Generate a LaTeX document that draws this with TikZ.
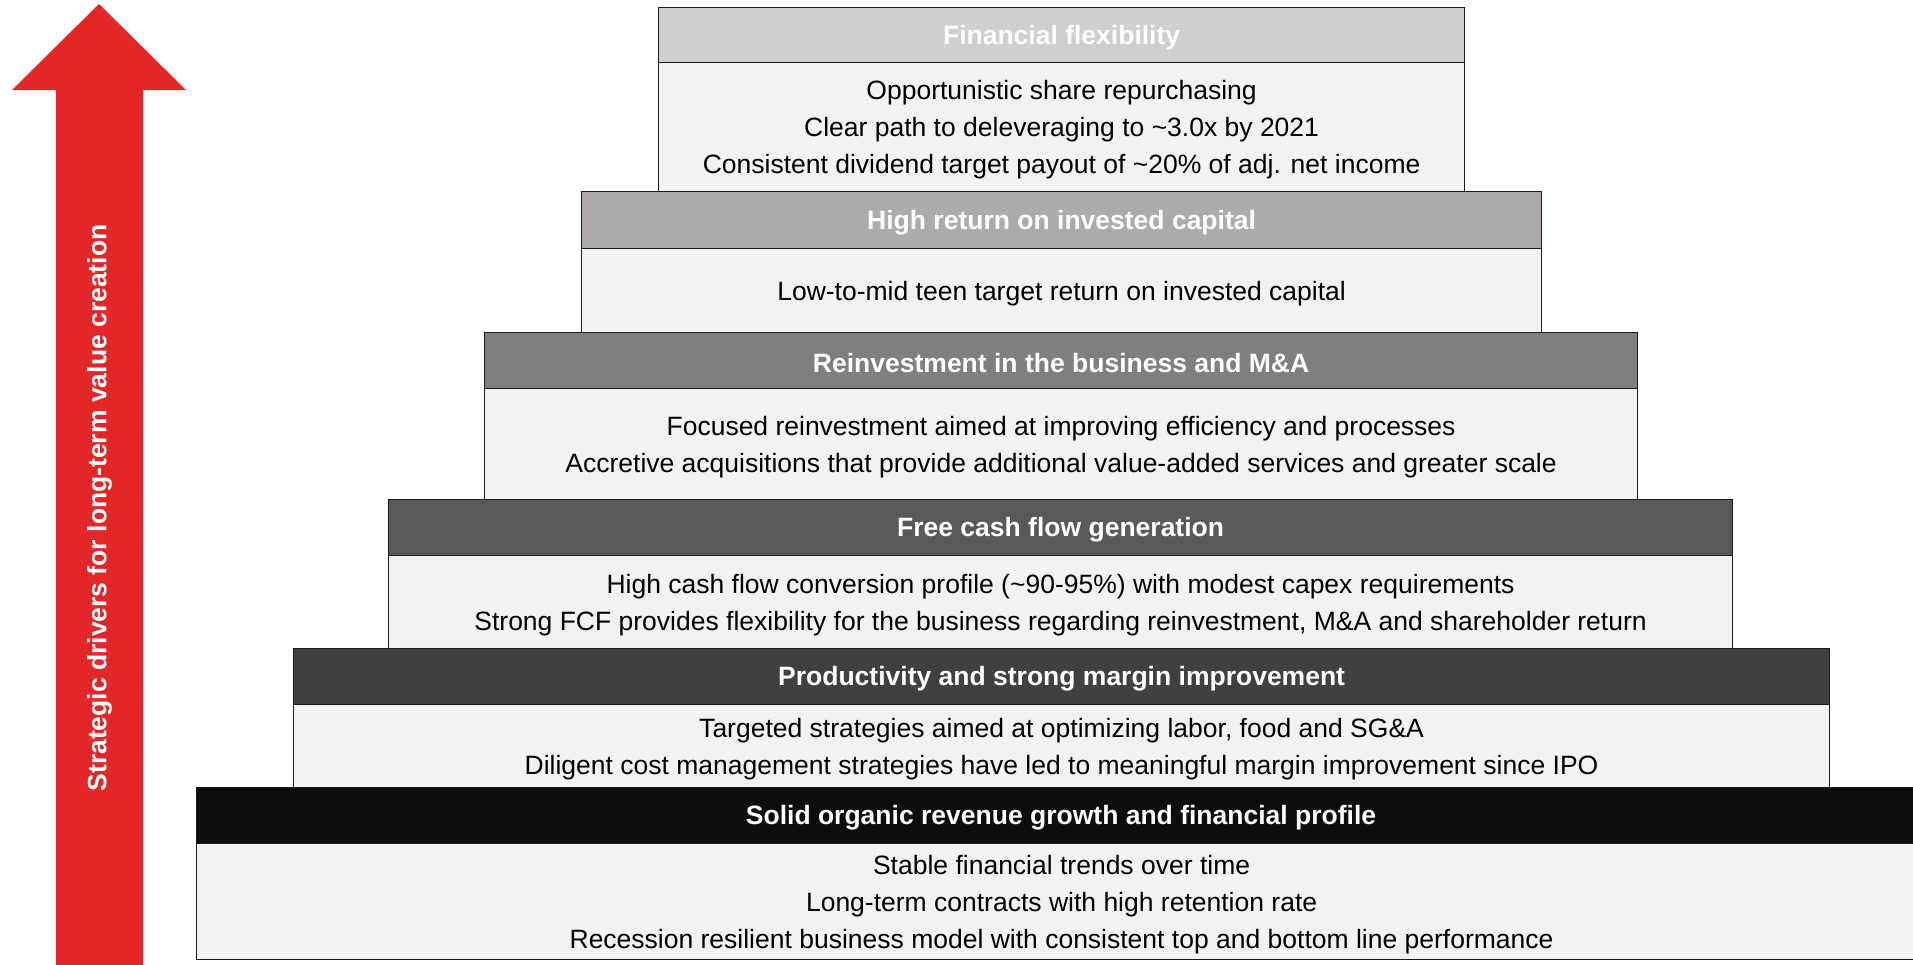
\documentclass[tikz,border=0pt]{standalone}
\usepackage{fontspec}
\setmainfont{Liberation Sans}
\definecolor{arrowred}{HTML}{E32728}
\definecolor{bodyfill}{HTML}{F2F2F2}
\definecolor{linecol}{HTML}{1A1A1A}
\definecolor{hA}{HTML}{D0CECE}
\definecolor{hB}{HTML}{AEAAAA}
\definecolor{hC}{HTML}{7F7F7F}
\definecolor{hD}{HTML}{595959}
\definecolor{hE}{HTML}{404040}
\definecolor{hF}{HTML}{0D0D0D}
\begin{document}
\begin{tikzpicture}[x=1pt,y=-1pt,
  hdr/.style={draw=linecol, line width=1.2pt, inner sep=0pt, anchor=north west},
  hdrtext/.style={text=white, inner sep=0pt, yshift=-2.5pt,
    font=\fontsize{26.5}{31}\selectfont\bfseries},
  bodybox/.style={draw=linecol, line width=1.2pt, fill=bodyfill, inner sep=0pt, anchor=north west},
  bodytext/.style={text=black, inner sep=0pt, yshift=-3pt, align=center,
    font=\fontsize{26.5}{37}\selectfont},
  vlabel/.style={text=white, rotate=90, font=\fontsize{26.5}{31}\selectfont\bfseries}]
\useasboundingbox (0,0) rectangle (1913,964);
\clip (0,0) rectangle (1913,964);

% arrow
\fill[arrowred] (56,966) -- (56,90) -- (12,90) -- (99,4) -- (186,90) -- (143,90) -- (143,966) -- cycle;
\node[vlabel] (arrowtext) at (99.5,508) {Strategic drivers for long-term value creation};

% Level 6
\node[bodybox, minimum width=1730pt, minimum height=116pt] (b6) at (196,843) {};
\node[bodytext] (t6) at (b6.center)
  {Stable financial trends over time\\Long-term contracts with high retention rate\\Recession resilient business model with consistent top and bottom line performance};
\node[hdr, fill=hF, minimum width=1730pt, minimum height=56pt] (h6) at (196,787) {};
\node[hdrtext] (ht6) at (1061,815) {Solid organic revenue growth and financial profile};

% Level 5
\node[bodybox, minimum width=1536pt, minimum height=83pt] (b5) at (293,704) {};
\node[bodytext] (t5) at (b5.center)
  {Targeted strategies aimed at optimizing labor, food and SG\&A\\Diligent cost management strategies have led to meaningful margin improvement since IPO};
\node[hdr, fill=hE, minimum width=1536pt, minimum height=56pt] (h5) at (293,648) {};
\node[hdrtext] (ht5) at (h5.center) {Productivity and strong margin improvement};

% Level 4
\node[bodybox, minimum width=1344pt, minimum height=93pt] (b4) at (388,555) {};
\node[bodytext] (t4) at (b4.center)
  {High cash flow conversion profile (\textasciitilde90-95\%) with modest capex requirements\\Strong FCF provides flexibility for the business regarding reinvestment, M\&A and shareholder return};
\node[hdr, fill=hD, minimum width=1344pt, minimum height=56pt] (h4) at (388,499) {};
\node[hdrtext] (ht4) at (h4.center) {Free cash flow generation};

% Level 3
\node[bodybox, minimum width=1153pt, minimum height=111pt] (b3) at (484,388) {};
\node[bodytext] (t3) at (b3.center)
  {Focused reinvestment aimed at improving efficiency and processes\\Accretive acquisitions that provide additional value-added services and greater scale};
\node[hdr, fill=hC, minimum width=1153pt, minimum height=56pt] (h3) at (484,332) {};
\node[hdrtext] (ht3) at (h3.center) {Reinvestment in the business and M\&A};

% Level 2
\node[bodybox, minimum width=960pt, minimum height=84pt] (b2) at (581,248) {};
\node[bodytext] (t2) at (b2.center) {Low-to-mid teen target return on invested capital};
\node[hdr, fill=hB, minimum width=960pt, minimum height=57pt] (h2) at (581,191) {};
\node[hdrtext] (ht2) at (h2.center) {High return on invested capital};

% Level 1
\node[bodybox, minimum width=806pt, minimum height=129pt] (b1) at (658,62) {};
\node[bodytext] (t1) at (b1.center)
  {Opportunistic share repurchasing\\Clear path to deleveraging to \textasciitilde3.0x by 2021\\Consistent dividend target payout of \textasciitilde20\% of adj. net income};
\node[hdr, fill=hA, minimum width=806pt, minimum height=55pt] (h1) at (658,7) {};
\node[hdrtext] (ht1) at (h1.center) {Financial flexibility};
\end{tikzpicture}
\end{document}
